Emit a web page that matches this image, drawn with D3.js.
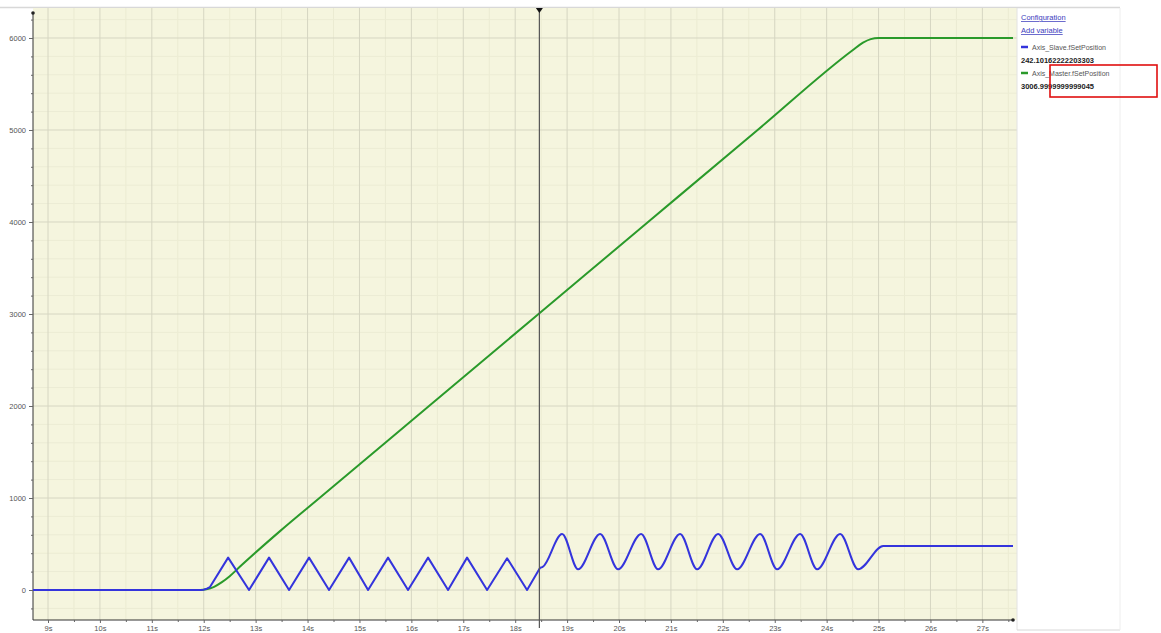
<!DOCTYPE html>
<html>
<head>
<meta charset="utf-8">
<script src="https://cdn.jsdelivr.net/npm/d3@7"></script>
<style>
  html, body { margin: 0; padding: 0; background: #ffffff; }
  svg { display: block; font-family: "Liberation Sans", Arial, sans-serif; }
</style>
</head>
<body>
<svg id="chart" width="1161" height="633"></svg>
<script>
// ---------------- data ----------------
const xTickLabels = ["9s","10s","11s","12s","13s","14s","15s","16s","17s","18s","19s","20s","21s","22s","23s","24s","25s","26s","27s"];
const xTickValues = [9,10,11,12,13,14,15,16,17,18,19,20,21,22,23,24,25,26,27];
const yTickValues = [0,1000,2000,3000,4000,5000,6000];

// Axis_Master.fSetPosition (green)
const masterT = [8.711, 11.93, 12.05, 12.2, 12.35, 12.5, 12.7, 13.47, 14.23, 16.34, 18.45, 20.56, 22.67, 24.5, 24.7, 24.85, 25.0, 27.59];
const masterV = [0, 0, 8, 35, 85, 150, 255, 640, 1000, 2000, 3000, 4000, 5000, 5867, 5950, 5988, 6000, 6000];

// Axis_Slave.fSetPosition (blue) - triangular part
const slaveRampT = [8.711, 11.93, 12.0, 12.06, 12.12, 12.47, 12.873, 13.258, 13.644, 14.029, 14.414, 14.800, 15.166, 15.551, 15.936, 16.322, 16.707, 17.073, 17.459, 17.844, 18.229, 18.48];
const slaveRampV = [0, 0, 4, 14, 32, 352, 0, 352, 0, 352, 0, 352, 0, 352, 0, 352, 0, 352, 0, 345, 0, 242];
// Axis_Slave.fSetPosition (blue) - sinusoidal part
const slaveWaveT = [18.48, 18.53, 18.904, 19.212, 19.636, 19.983, 20.426, 20.753, 21.177, 21.505, 21.910, 22.276, 22.719, 23.046, 23.489, 23.817, 24.260, 24.607, 25.09, 27.59];
const slaveWaveV = [242, 252, 609, 225, 609, 225, 609, 225, 609, 225, 609, 225, 609, 225, 609, 225, 609, 225, 478, 478];

const cursorT = 18.466;
const legendNames = ["Axis_Slave.fSetPosition", "Axis_Master.fSetPosition"];
const legendValues = ["242.10162222203303", "3006.9999999999045"];
const legendColors = ["#3434dc", "#2a9a2a"];

// ---------------- layout ----------------
const svg = d3.select("#chart");
const pLeft = 33, pRight = 1013, pTop = 8, pBottom = 620;
const x = d3.scaleLinear().domain([8.711, 27.59]).range([pLeft, pRight]);
const y = d3.scaleLinear().domain([-326, 6326]).range([pBottom, pTop]);

// top grey line
svg.append("line").attr("x1", 0).attr("x2", 1120).attr("y1", 7.5).attr("y2", 7.5)
  .attr("stroke", "#d8d8d8").attr("stroke-width", 1.5);

// plot background
svg.append("rect").attr("x", pLeft).attr("y", pTop).attr("width", 1017 - pLeft).attr("height", pBottom - pTop)
  .attr("fill", "#f5f5de");

// minor grid
const minorX = d3.range(8.5, 27.6, 0.5).filter(v => v >= 8.711 && Math.abs(v - Math.round(v)) > 0.01);
svg.append("g").selectAll("line").data(minorX).join("line")
  .attr("x1", d => x(d)).attr("x2", d => x(d)).attr("y1", pTop).attr("y2", pBottom)
  .attr("stroke", "#ebebd2").attr("stroke-width", 1);
const minorY = d3.range(-200, 6400, 200).filter(v => v % 1000 !== 0);
svg.append("g").selectAll("line").data(minorY).join("line")
  .attr("x1", pLeft).attr("x2", 1017).attr("y1", d => y(d)).attr("y2", d => y(d))
  .attr("stroke", "#ececd4").attr("stroke-width", 1);

// major grid
svg.append("g").selectAll("line").data(xTickValues).join("line")
  .attr("x1", d => x(d)).attr("x2", d => x(d)).attr("y1", pTop).attr("y2", pBottom)
  .attr("stroke", "#d6d6c2").attr("stroke-width", 1);
svg.append("g").selectAll("line").data(yTickValues).join("line")
  .attr("x1", pLeft).attr("x2", 1017).attr("y1", d => y(d)).attr("y2", d => y(d))
  .attr("stroke", "#d6d6c2").attr("stroke-width", 1);

// axes
const yAxis = d3.axisLeft(y).tickValues(yTickValues).tickSize(4).tickPadding(3).tickFormat(d3.format("d"));
const gy = svg.append("g").attr("transform", `translate(${pLeft},0)`).call(yAxis);
const yMinor = d3.axisLeft(y).tickValues(minorY).tickSize(2).tickFormat("");
svg.append("g").attr("transform", `translate(${pLeft},0)`).call(yMinor).select(".domain").remove();

const xAxis = d3.axisBottom(x).tickValues(xTickValues).tickSize(3).tickPadding(3)
  .tickFormat((d, i) => xTickLabels[i]);
const gx = svg.append("g").attr("transform", `translate(0,${pBottom})`).call(xAxis);
const xMinor = d3.axisBottom(x).tickValues(minorX).tickSize(2).tickFormat("");
svg.append("g").attr("transform", `translate(0,${pBottom})`).call(xMinor).select(".domain").remove();

[gx, gy].forEach(g => {
  g.select(".domain").attr("stroke", "#333").attr("stroke-width", 1);
  g.selectAll(".tick text").attr("fill", "#555").attr("font-size", 7.5);
});
svg.selectAll(".tick line").attr("stroke", "#666");
gy.select(".domain").attr("d", `M0,${pTop + 4}V${pBottom}`);
gx.select(".domain").attr("d", `M${pLeft},0H${pRight}`);
// axis end dots
svg.append("circle").attr("cx", pLeft).attr("cy", pTop + 5).attr("r", 1.8).attr("fill", "#222");
svg.append("circle").attr("cx", pRight).attr("cy", pBottom).attr("r", 1.8).attr("fill", "#222");

// series
const lineLin = d3.line().x(d => x(d[0])).y(d => y(d[1])).curve(d3.curveLinear);
const lineSmooth = d3.line().x(d => x(d[0])).y(d => y(d[1])).curve(d3.curveMonotoneX);

svg.append("path").datum(masterT.map((t, i) => [t, masterV[i]]))
  .attr("d", lineSmooth).attr("fill", "none").attr("stroke", legendColors[1]).attr("stroke-width", 2);
svg.append("path").datum(slaveRampT.map((t, i) => [t, slaveRampV[i]]))
  .attr("d", lineLin).attr("fill", "none").attr("stroke", legendColors[0]).attr("stroke-width", 2)
  .attr("stroke-linejoin", "round");
svg.append("path").datum(slaveWaveT.map((t, i) => [t, slaveWaveV[i]]))
  .attr("d", lineSmooth).attr("fill", "none").attr("stroke", legendColors[0]).attr("stroke-width", 2);

// cursor
const cx = x(cursorT);
svg.append("line").attr("x1", cx).attr("x2", cx).attr("y1", pTop).attr("y2", pBottom + 8)
  .attr("stroke", "#555").attr("stroke-width", 1.2);
svg.append("path").attr("d", `M${cx - 3.5},${pTop}L${cx + 3.5},${pTop}L${cx},${pTop + 5}Z`).attr("fill", "#111");

// legend panel
const panel = svg.append("g");
panel.append("line").attr("x1", 1017).attr("x2", 1017).attr("y1", pTop).attr("y2", 630)
  .attr("stroke", "#e2e2e2");
panel.append("line").attr("x1", 1017).attr("x2", 1120).attr("y1", 630).attr("y2", 630)
  .attr("stroke", "#d8d8d8");
panel.append("line").attr("x1", 1120).attr("x2", 1120).attr("y1", pTop).attr("y2", 630)
  .attr("stroke", "#eeeeee");
panel.append("text").attr("x", 1021).attr("y", 20).text("Configuration")
  .attr("font-size", 7.5).attr("fill", "#3b3bbd").attr("text-decoration", "underline");
panel.append("text").attr("x", 1021).attr("y", 33).text("Add variable")
  .attr("font-size", 7.5).attr("fill", "#3b3bbd").attr("text-decoration", "underline");
legendNames.forEach((name, i) => {
  const yy = 47 + i * 26;
  panel.append("line").attr("x1", 1021).attr("x2", 1028).attr("y1", yy).attr("y2", yy)
    .attr("stroke", legendColors[i]).attr("stroke-width", 2.5);
  panel.append("text").attr("x", 1032).attr("y", yy + 2.5).text(name)
    .attr("font-size", 7).attr("fill", "#555");
  panel.append("text").attr("x", 1021).attr("y", yy + 15.5).text(legendValues[i])
    .attr("font-size", 7.5).attr("font-weight", "bold").attr("fill", "#222");
});
// red highlight box
svg.append("rect").attr("x", 1050).attr("y", 65).attr("width", 107).attr("height", 32)
  .attr("fill", "none").attr("stroke", "#e01010").attr("stroke-width", 1.6);
</script>
</body>
</html>
